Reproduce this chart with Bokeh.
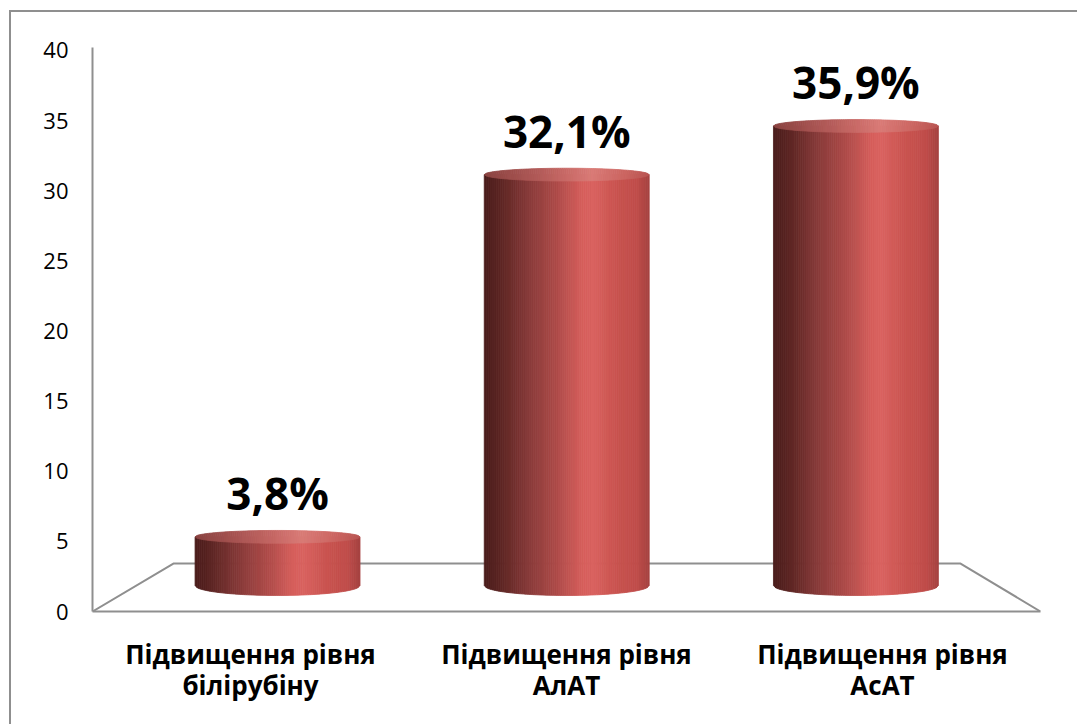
import numpy as np
from bokeh.plotting import figure
from bokeh.models import Range1d, FixedTicker, ColumnDataSource
from bokeh.core.properties import value
from bokeh.embed import file_html
from bokeh.resources import INLINE

# ---------------- data ----------------
categories = ["Підвищення рівня\nбілірубіну", "Підвищення рівня\nАлАТ", "Підвищення рівня\nАсАТ"]
values = [3.8, 32.1, 35.9]
value_labels = ["3,8%", "32,1%", "35,9%"]
y_ticks = [0, 5, 10, 15, 20, 25, 30, 35, 40]

# ---------------- layout / style constants ----------------
W, H = 1068, 714             # figure size (page offset 9/10 px + border)
GRAY = "#8f8f8f"
FLOOR_BACK_Y = 3.42          # back edge of floor (primary y units)
FLOOR_BACK_X0, FLOOR_BACK_X1 = 0.256, 2.747
DEPTH = 0.5                  # bar depth position between front(0) and back(1)
BAR_HALF = 0.261             # half bar width in x units
BOT_B = 0.78                 # bottom ellipse semi-minor (bar units)
TOP_B = 0.50                 # top ellipse semi-minor (bar units)
N_STRIPS = 80

body_stops = [(0.00, "#4a1c1b"), (0.10, "#5c2523"), (0.25, "#833837"), (0.45, "#b04c4a"),
              (0.60, "#d75f5c"), (0.66, "#d9625f"), (0.80, "#c9534f"), (0.93, "#bf4c4a"),
              (1.00, "#a54240")]
top_stops = [(0.00, "#8a4341"), (0.25, "#a85452"), (0.50, "#c96a67"), (0.65, "#d97b77"),
             (0.85, "#cc6662"), (1.00, "#b95552")]


def hex2rgb(h):
    return np.array([int(h[i:i + 2], 16) for i in (1, 3, 5)], dtype=float)


def grad(stops, t):
    for (p0, c0), (p1, c1) in zip(stops[:-1], stops[1:]):
        if p0 <= t <= p1:
            f = (t - p0) / (p1 - p0) if p1 > p0 else 0
            c = hex2rgb(c0) * (1 - f) + hex2rgb(c1) * f
            return "#%02x%02x%02x" % tuple(int(round(v)) for v in c)
    return stops[-1][1]


p = figure(width=W, height=H, output_backend="svg", toolbar_location=None,
           x_range=Range1d(0, 3), y_range=Range1d(0, 40.21),
           min_border_left=81, min_border_right=39, min_border_top=35, min_border_bottom=115,
           background_fill_color="white", border_fill_color="white", outline_line_color=None,
           styles={"margin-left": "9px", "margin-top": "10px",
                   "border-left": "2px solid #8f8f8f", "border-top": "2px solid #8f8f8f"})

# hidden scale for the 3D cylinders (perspective-shrunk, base lifted by floor depth)
base_px = 26.0
px_per_unit = 12.8
frame_h = 564.0
bar_start = -base_px / px_per_unit
p.extra_y_ranges = {"bars": Range1d(bar_start, bar_start + frame_h / px_per_unit)}

p.grid.visible = False

# y axis
p.yaxis.ticker = FixedTicker(ticks=y_ticks)
p.yaxis.axis_line_color = GRAY
p.yaxis.axis_line_width = 2
p.yaxis.major_tick_line_color = None
p.yaxis.minor_tick_line_color = None
p.yaxis.major_tick_out = 0
p.yaxis.major_tick_in = 0
p.yaxis.major_label_standoff = 24
p.yaxis.major_label_text_font = "Open Sans"
p.yaxis.major_label_text_font_size = "22px"
p.yaxis.major_label_text_color = "#000000"

# x axis (front edge of floor)
xt = [i + 0.5 for i in range(len(categories))]
p.xaxis.ticker = FixedTicker(ticks=xt)
p.xaxis.major_label_overrides = {t: c for t, c in zip(xt, categories)}
p.xaxis.axis_line_color = GRAY
p.xaxis.axis_line_width = 2
p.xaxis.major_tick_line_color = None
p.xaxis.minor_tick_line_color = None
p.xaxis.major_tick_out = 0
p.xaxis.major_tick_in = 0
p.xaxis.major_label_standoff = 24
p.xaxis.major_label_text_font = "Open Sans"
p.xaxis.major_label_text_font_style = "bold"
p.xaxis.major_label_text_font_size = "26px"
p.xaxis.major_label_text_line_height = 0.87
p.xaxis.major_label_text_color = "#000000"

# floor outline (side and back edges)
p.line([0, FLOOR_BACK_X0, FLOOR_BACK_X1, 3], [0, FLOOR_BACK_Y, FLOOR_BACK_Y, 0],
       line_color=GRAY, line_width=2)

# cylinders
n = len(values)
back_w = (FLOOR_BACK_X1 - FLOOR_BACK_X0) / n
centers = []
for i in range(n):
    front_c = i + 0.5
    back_c = FLOOR_BACK_X0 + (i + 0.5) * back_w
    centers.append(front_c * (1 - DEPTH) + back_c * DEPTH)

bx, by, bc = [], [], []
tx, ty, tc = [], [], []
for xc, v in zip(centers, values):
    for j in range(N_STRIPS):
        u0 = -1 + 2 * j / N_STRIPS
        u1 = u0 + 2 / N_STRIPS
        um = (u0 + u1) / 2
        t = (um + 1) / 2
        x0, x1 = xc + BAR_HALF * u0, xc + BAR_HALF * u1
        s0, s1 = np.sqrt(max(0, 1 - u0 * u0)), np.sqrt(max(0, 1 - u1 * u1))
        bx.append([x0, x1, x1, x0])
        by.append([-BOT_B * s0, -BOT_B * s1, v, v])
        bc.append(grad(body_stops, t))
        tx.append([x0, x1, x1, x0])
        ty.append([v - TOP_B * s0, v - TOP_B * s1, v + TOP_B * s1, v + TOP_B * s0])
        tc.append(grad(top_stops, t))

p.patches(xs=bx, ys=by, fill_color=bc, line_color=bc, line_width=0.8, y_range_name="bars")
p.patches(xs=tx, ys=ty, fill_color=tc, line_color=tc, line_width=0.8, y_range_name="bars")

# value labels
lab_src = ColumnDataSource(dict(x=centers, y=values, t=value_labels))
p.text(x="x", y="y", text="t", source=lab_src, y_range_name="bars",
       text_align="center", text_baseline="bottom", y_offset=-14,
       text_font=value("Open Sans"), text_font_style="bold", text_font_size="44px",
       text_color="#000000")

open("out.html", "w").write(file_html(p, INLINE))
